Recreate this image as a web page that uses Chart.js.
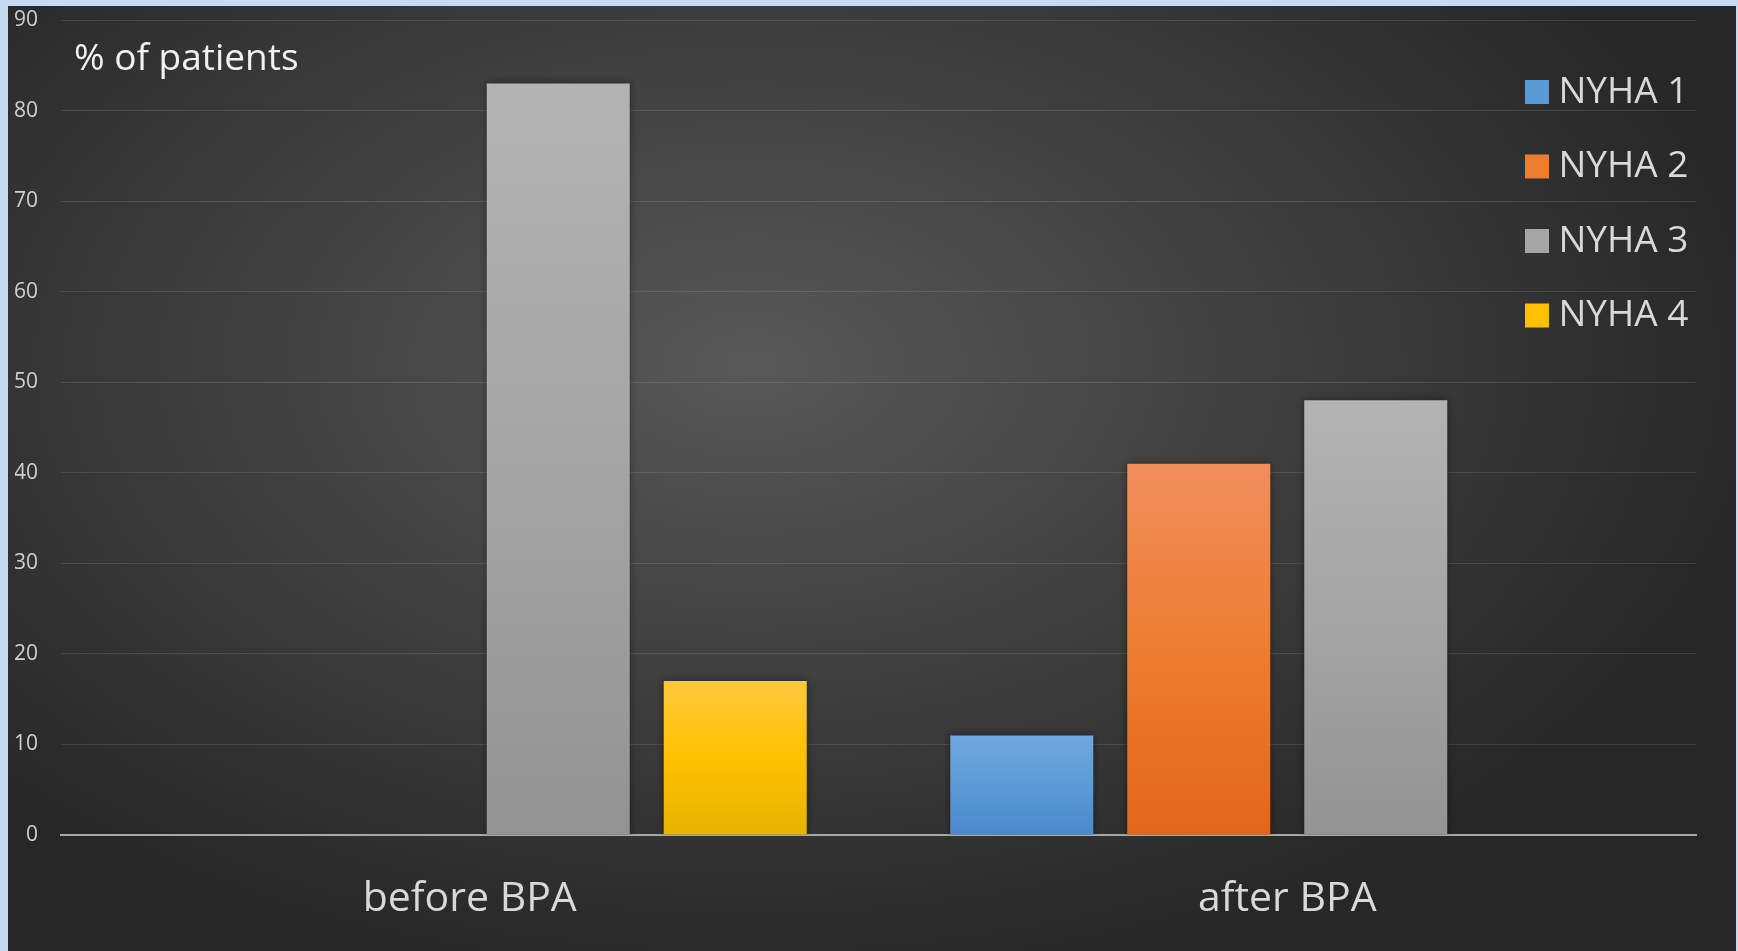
<!DOCTYPE html>
<html>
<head>
<meta charset="utf-8">
<script src="https://cdn.jsdelivr.net/npm/chart.js@4.4.1/dist/chart.umd.min.js"></script>
<style>
  html, body { margin: 0; padding: 0; background: #c6daf1; overflow: hidden; }
  #wrap { position: absolute; left: 8px; top: 6px; width: 1728px; height: 945px; }
</style>
</head>
<body>
<div id="wrap"><canvas id="myBarChart"></canvas></div>
<script>
// data
var categories = ['before BPA', 'after BPA'];
var seriesNames = ['NYHA 1', 'NYHA 2', 'NYHA 3', 'NYHA 4'];
var nyha1 = [0, 11];
var nyha2 = [0, 41];
var nyha3 = [83, 48];
var nyha4 = [17, 0];
var yMax = 90;
var yStep = 10;
var yTitle = '% of patients';

// top / middle / bottom colours of each bar gradient
var topColors = ['#70a8de', '#f18e5c', '#b3b3b3', '#ffc93e'];
var flatColors = ['#5b9bd5', '#ed7d31', '#a5a5a5', '#ffc000'];
var bottomColors = ['#4a88cc', '#e2661a', '#939393', '#e6b300'];

Chart.defaults.font.family = "'Open Sans', sans-serif";

function barGradient(i) {
    return function(c) {
        var chart = c.chart;
        if (!chart.chartArea || c.type !== 'data' || !chart.scales.y) return flatColors[i];
        var y = chart.scales.y;
        var y0 = y.getPixelForValue(c.raw);
        var y1 = y.getPixelForValue(0);
        if (Math.abs(y1 - y0) < 1) return flatColors[i];
        var g = chart.ctx.createLinearGradient(0, y0, 0, y1);
        g.addColorStop(0, topColors[i]);
        g.addColorStop(0.5, flatColors[i]);
        g.addColorStop(1, bottomColors[i]);
        return g;
    };
}

var background = {
    id: 'background',
    beforeDraw: function(chart) {
        var ctx = chart.ctx;
        ctx.save();
        ctx.fillStyle = '#272727';
        ctx.fillRect(0, 0, chart.width, chart.height);
        ctx.translate(chart.width * 0.43, chart.height * 0.38);
        ctx.scale(1.65, 1);
        var g = ctx.createRadialGradient(0, 0, 0, 0, 0, 620);
        g.addColorStop(0, '#585858');
        g.addColorStop(1, '#272727');
        ctx.fillStyle = g;
        ctx.fillRect(-chart.width, -chart.height, chart.width * 2, chart.height * 2);
        ctx.restore();
    },
    afterLayout: function(chart) {
        // move legend to the top right corner inside the plot
        var lg = chart.legend, a = chart.chartArea;
        if (!lg) return;
        var w = lg.width;
        lg.left = a.right - 199.5;
        lg.right = lg.left + w;
        lg.top = a.top + 16;
        lg.bottom = a.bottom;
    },
    beforeDatasetsDraw: function(chart) {
        var ctx = chart.ctx;
        ctx.save();
        ctx.shadowColor = 'rgba(0,0,0,0.45)';
        ctx.shadowBlur = 8;
    },
    afterDatasetsDraw: function(chart) {
        chart.ctx.restore();
    },
    afterDraw: function(chart) {
        var ctx = chart.ctx, a = chart.chartArea;
        ctx.save();
        ctx.font = "37px 'Open Sans'";
        ctx.fillStyle = '#f2f2f2';
        ctx.textBaseline = 'alphabetic';
        ctx.fillText(yTitle, a.left + 13, a.top + 50);
        ctx.restore();
    }
};

var allSeries = [nyha1, nyha2, nyha3, nyha4];
var datasets = [];
for (var i = 0; i < seriesNames.length; i++) {
    datasets.push({
        label: seriesNames[i],
        data: allSeries[i],
        backgroundColor: barGradient(i),
        borderWidth: 0,
        categoryPercentage: 0.866,
        barPercentage: 0.808
    });
}

var ctx = document.getElementById('myBarChart');
var barGraph = new Chart(ctx, {
    type: 'bar',
    data: { labels: categories, datasets: datasets },
    plugins: [background],
    options: {
        responsive: true,
        maintainAspectRatio: false,
        animation: false,
        layout: { padding: { left: 7, top: 14, right: 40, bottom: 27 } },
        plugins: {
            tooltip: { enabled: false },
            legend: {
                position: 'chartArea',
                align: 'start',
                labels: {
                    color: '#d9d9d9',
                    font: { size: 37 },
                    // small box + thick stroke = 24px square a bit closer to the text
                    boxWidth: 6,
                    boxHeight: 6,
                    padding: 37.5,
                    generateLabels: function(chart) {
                        return chart.data.datasets.map(function(ds, k) {
                            return {
                                text: ds.label,
                                fillStyle: flatColors[k],
                                strokeStyle: flatColors[k],
                                lineWidth: 18,
                                lineJoin: 'miter',
                                fontColor: '#d9d9d9',
                                hidden: false,
                                datasetIndex: k
                            };
                        });
                    }
                }
            }
        },
        scales: {
            x: {
                z: 1,
                grid: { display: false, drawTicks: false },
                border: { display: true, color: '#a8a8a8', width: 2 },
                ticks: { color: '#d9d9d9', font: { size: 41 }, padding: 40 },
                afterFit: function(scale) { scale.height = 89; }
            },
            y: {
                min: 0,
                max: yMax,
                grid: { color: 'rgba(255,255,255,0.11)', lineWidth: 1, drawTicks: false },
                border: { display: false },
                ticks: { stepSize: yStep, color: '#d0d0d0', font: { size: 21 }, padding: 23 },
                afterFit: function(scale) {
                    scale.width = 46;
                    scale.paddingTop = 0;
                    scale.paddingBottom = 0;
                }
            }
        }
    }
});
</script>
</body>
</html>
